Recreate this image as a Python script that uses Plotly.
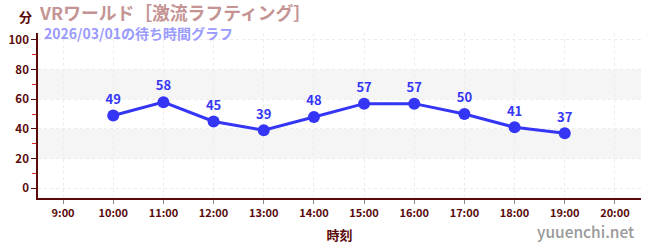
import plotly.graph_objects as go

hours = [10, 11, 12, 13, 14, 15, 16, 17, 18, 19]
waits = [49, 58, 45, 39, 48, 57, 57, 50, 41, 37]
tick_hours = list(range(9, 21))
tick_labels = [f"<b>{h}:00</b>" for h in tick_hours]
y_ticks = [0, 20, 40, 60, 80, 100]
y_labels = [f"<b>{v}</b>" for v in y_ticks]
bands = [(20, 40), (60, 80)]

FONT = "Noto Sans CJK JP"
AXIS = "#5a0a0a"
BLUE = "#3535f5"

fig = go.Figure()
fig.add_trace(go.Scatter(
    x=hours, y=waits, mode="lines+markers+text",
    text=[f"<b>{v}</b>" for v in waits], textposition="top center",
    textfont=dict(family=FONT, size=13, color=BLUE),
    line=dict(color=BLUE, width=3),
    marker=dict(color=BLUE, size=12),
    cliponaxis=False, hoverinfo="skip",
))
for lo, hi in bands:
    fig.add_hrect(y0=lo, y1=hi, fillcolor="#f5f5f5", line_width=0, layer="below")

fig.update_layout(
    width=650, height=250,
    margin=dict(l=31, r=9, t=33, b=50),
    plot_bgcolor="white", paper_bgcolor="white",
    showlegend=False,
    font=dict(family=FONT, color=AXIS),
)
fig.update_xaxes(
    range=[8.5, 20.52], tickvals=tick_hours, ticktext=tick_labels,
    tickfont=dict(size=11, color=AXIS, family=FONT),
    showline=True, linecolor=AXIS, linewidth=1.5,
    ticks="outside", ticklen=4, tickcolor="#888888",
    showgrid=True, gridcolor="#ececec", griddash="3px,3px", zeroline=False,
    title=dict(text="<b>時刻</b>", font=dict(size=13, color=AXIS, family=FONT), standoff=12),
)
fig.update_yaxes(
    range=[-6.67, 104.67], tickvals=y_ticks, ticktext=y_labels,
    tickfont=dict(size=11.5, color=AXIS, family=FONT),
    showline=True, linecolor=AXIS, linewidth=1.5,
    ticks="outside", ticklen=5, tickcolor=AXIS,
    minor=dict(tickvals=[10, 30, 50, 70, 90], ticks="outside", ticklen=4, tickcolor="#dd2222", showgrid=False),
    showgrid=True, gridcolor="#ececec", griddash="3px,3px", zeroline=False,
)

def pix(x, y):
    return (x - 31) / 610, (250 - 50 - y) / 167

for txt, x, y, size, color, anchor, weight in [
    ("分", 18, 16, 13, AXIS, "center", 700),
    ("VRワールド［激流ラフティング］", 30, 12, 17.8, "#c49494", "left", 700),
    ("2026/03/01の待ち時間グラフ", 35, 33.5, 14, "#9a9aff", "left", 700),
    ("yuuenchi.net", 636, 233, 15.5, "#999999", "right", 500),
]:
    px, py = pix(x, y)
    fig.add_annotation(x=px, y=py, xref="paper", yref="paper", text=txt, showarrow=False,
                       font=dict(size=size, color=color, family=FONT, weight=weight),
                       xanchor=anchor, yanchor="middle")

fig.write_html("out.html")
